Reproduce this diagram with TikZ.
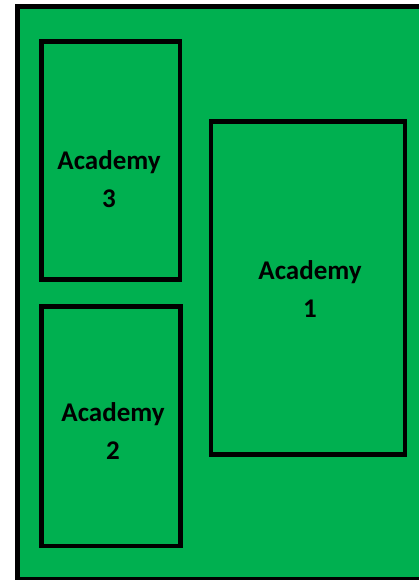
\documentclass[tikz,border=0pt]{standalone}
\usepackage{fontspec}
\setmainfont{Carlito}
\usepackage{xcolor}
\usetikzlibrary{positioning}
\definecolor{fieldgreen}{HTML}{00B050}

\begin{document}
\begin{tikzpicture}[x=1pt, y=-1pt, line join=miter,
		plot/.style={draw=black, line width=4.6pt},
		label/.style={align=center, font=\bfseries\fontsize{27}{38}\selectfont, inner sep=0pt}]
	\useasboundingbox (0,0) rectangle (419,580);
	
	% site and the three plots
	\filldraw[plot, fill=fieldgreen] (17.5,6.5) rectangle (422,579.5);
	\draw[plot] (41.5,41.5) rectangle (180,279.5) coordinate (A3se);
	\draw[plot] (41.5,306.5) rectangle (180.5,546) coordinate (A2se);
	\draw[plot] (211,121.5) rectangle (405,454.5) coordinate (A1se);
	
	\node[label] (acad3) at (109,179) {Academy\\3};
	\node[label] (acad2) at (113,431) {Academy\\2};
	\node[label] (acad1) at (310,289) {Academy\\1};
\end{tikzpicture}
\end{document}
